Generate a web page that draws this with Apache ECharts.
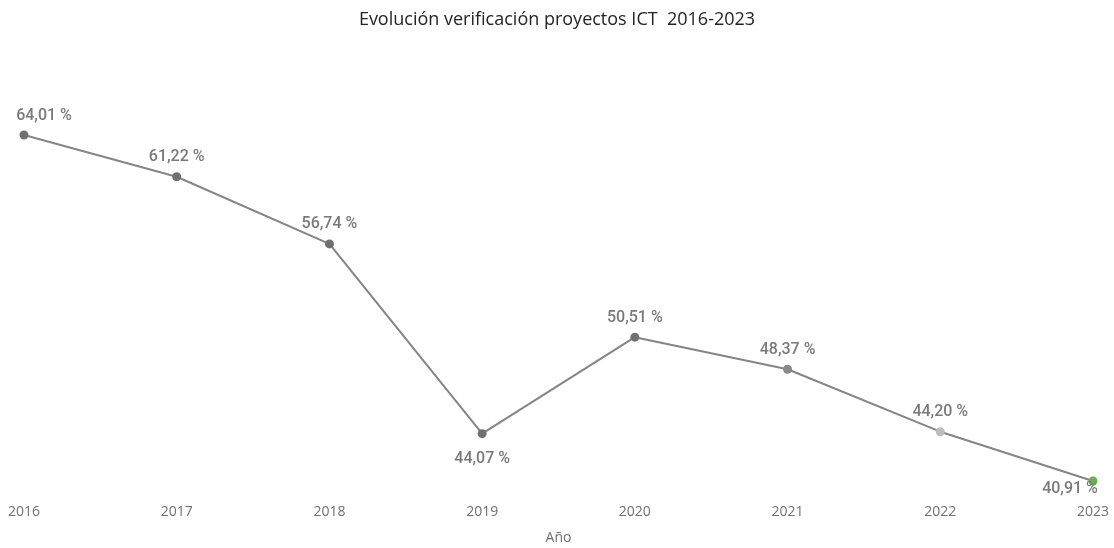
<!DOCTYPE html>
<html>
<head>
<meta charset="utf-8">
<script src="https://cdn.jsdelivr.net/npm/echarts@6/dist/echarts.min.js"></script>
<style>html,body{margin:0;padding:0;background:#fff}#c{width:1114px;height:548px}</style>
</head>
<body>
<div id="c"></div>
<script>
const years = ['2016','2017','2018','2019','2020','2021','2022','2023'];
const values = [64.01, 61.22, 56.74, 44.07, 50.51, 48.37, 44.20, 40.91];
const pointColors = ['#707070','#707070','#707070','#707070','#707070','#8a8a8a','#bdbdbd','#6ab04c'];

const labelFont = {fontFamily:'Roboto,"Noto Sans",sans-serif', fontSize:16, fontWeight:500, color:'#7a7a7a'};
const data = values.map((v,i)=>{
  const d = {value:v, itemStyle:{color:pointColors[i]}};
  if (i===0) d.label = {offset:[20,0]};
  if (i===3) d.label = {position:'bottom', distance:13};
  if (i===7) d.label = {position:'inside', offset:[-23,8]};
  return d;
});

const chart = echarts.init(document.getElementById('c'));
chart.setOption({
  animation:false,
  title:{text:'Evolución verificación proyectos ICT  2016-2023', left:'center', top:6,
    textStyle:{fontFamily:'"Open Sans","Noto Sans",sans-serif', fontSize:18, fontWeight:'normal', color:'#252423'}},
  grid:{left:24, right:21, top:105.2, height:389.4, containLabel:false, outerBoundsMode:'none'},
  xAxis:{type:'category', data:years, boundaryGap:false,
    axisLine:{show:false}, axisTick:{show:false}, splitLine:{show:false},
    axisLabel:{margin:10, fontFamily:'"Open Sans","Noto Sans",sans-serif', fontSize:14, color:'#6f6f6f'},
    name:'Año', nameLocation:'middle', nameGap:36,
    nameTextStyle:{fontFamily:'"Open Sans","Noto Sans",sans-serif', fontSize:14, color:'#6f6f6f'}},
  yAxis:{type:'value', min:40, max:66, show:false, splitLine:{show:false}},
  series:[{type:'line', data:data, symbol:'circle', symbolSize:9,
    lineStyle:{color:'#858585', width:2},
    label:{show:true, position:'top', distance:7, ...labelFont,
      formatter:p=>p.value.toFixed(2).replace('.',',')+' %'}}]
});
</script>
</body>
</html>
